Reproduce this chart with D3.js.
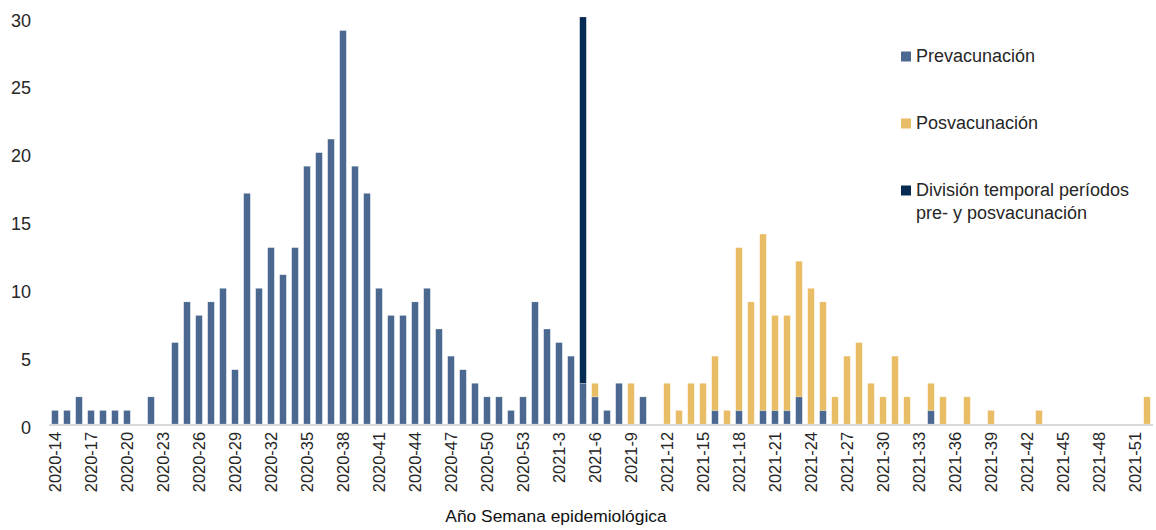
<!DOCTYPE html>
<html>
<head>
<meta charset="utf-8">
<script src="https://cdn.jsdelivr.net/npm/d3@7"></script>
<style>
  html, body { margin: 0; padding: 0; background: #ffffff; }
  svg { display: block; }
  text { font-family: "Liberation Sans", Arial, sans-serif; }
</style>
</head>
<body>
<svg id="chart" width="1156" height="530"></svg>
<script>
// ---- Data ----
const weeks = [
  "2020-14","2020-15","2020-16","2020-17","2020-18","2020-19","2020-20","2020-21","2020-22","2020-23",
  "2020-24","2020-25","2020-26","2020-27","2020-28","2020-29","2020-30","2020-31","2020-32","2020-33",
  "2020-34","2020-35","2020-36","2020-37","2020-38","2020-39","2020-40","2020-41","2020-42","2020-43",
  "2020-44","2020-45","2020-46","2020-47","2020-48","2020-49","2020-50","2020-51","2020-52","2020-53",
  "2021-1","2021-2","2021-3","2021-4","2021-5","2021-6","2021-7","2021-8","2021-9","2021-10",
  "2021-11","2021-12","2021-13","2021-14","2021-15","2021-16","2021-17","2021-18","2021-19","2021-20",
  "2021-21","2021-22","2021-23","2021-24","2021-25","2021-26","2021-27","2021-28","2021-29","2021-30",
  "2021-31","2021-32","2021-33","2021-34","2021-35","2021-36","2021-37","2021-38","2021-39","2021-40",
  "2021-41","2021-42","2021-43","2021-44","2021-45","2021-46","2021-47","2021-48","2021-49","2021-50",
  "2021-51","2021-52"
];
const prevacunacion = [
  1,1,2,1,1,1,1,0,2,0,
  6,9,8,9,10,4,17,10,13,11,
  13,19,20,21,29,19,17,10,8,8,
  9,10,7,5,4,3,2,2,1,2,
  9,7,6,5,3,2,1,3,0,2,
  0,0,0,0,0,1,0,1,0,1,
  1,1,2,0,1,0,0,0,0,0,
  0,0,0,1,0,0,0,0,0,0,
  0,0,0,0,0,0,0,0,0,0,
  0,0
];
const posvacunacion = [
  0,0,0,0,0,0,0,0,0,0,
  0,0,0,0,0,0,0,0,0,0,
  0,0,0,0,0,0,0,0,0,0,
  0,0,0,0,0,0,0,0,0,0,
  0,0,0,0,0,1,0,0,3,0,
  0,3,1,3,3,4,1,12,9,13,
  7,7,10,10,8,2,5,6,3,2,
  5,2,0,2,2,0,2,0,1,0,
  0,0,1,0,0,0,0,0,0,0,
  0,2
];
const division = weeks.map(w => w === "2021-5" ? 27 : 0);
const yTicks = [0,5,10,15,20,25,30];
const seriesNames = ["Prevacunación","Posvacunación","División temporal períodos pre- y posvacunación"];
const seriesKeys = ["pre","pos","div"];
const colors = { pre: "#4a6890", pos: "#e9bd66", div: "#062b52" };

// ---- Build table ----
const table = weeks.map((w,i) => ({ week: w, pre: prevacunacion[i], div: division[i], pos: posvacunacion[i] }));
const stacked = d3.stack().keys(["pre","div","pos"])(table);

const svg = d3.select("#chart");

const x = d3.scaleBand().domain(weeks).range([49, 1153]).paddingInner(0.45).paddingOuter(0.225);
const y = d3.scaleLinear().domain([0, 30]).range([424, 17]);

// Bars
svg.append("g").selectAll("g").data(stacked).join("g")
  .attr("fill", d => colors[d.key])
  .selectAll("rect").data(d => d.filter(p => p[1] - p[0] > 0)).join("rect")
  .attr("x", d => x(d.data.week))
  .attr("width", x.bandwidth())
  .attr("y", d => y(d[1]))
  .attr("height", d => y(d[0]) - y(d[1]))
  .attr("stroke", "#ffffff")
  .attr("stroke-opacity", 0.35)
  .attr("stroke-width", 0.6);

// X axis
const xAxis = svg.append("g")
  .attr("transform", "translate(0,424)")
  .call(d3.axisBottom(x).tickValues(weeks.filter((d,i) => i % 3 === 0)).tickSize(0).tickPadding(0));
xAxis.select(".domain").attr("stroke", "#d9d9d9").attr("stroke-width", 2).attr("d", "M49,1H1153");
xAxis.selectAll(".tick text")
  .attr("transform", "rotate(-90)")
  .attr("text-anchor", "end")
  .attr("x", -8)
  .attr("y", 0)
  .attr("dy", "0.36em")
  .attr("fill", "#262626")
  .style("font-size", "16.4px");

// Y axis
const yAxis = svg.append("g")
  .attr("transform", "translate(31,0)")
  .call(d3.axisLeft(y).tickValues(yTicks).tickSize(0).tickPadding(0));
yAxis.select(".domain").remove();
yAxis.selectAll(".tick text")
  .attr("fill", "#262626")
  .attr("dy", "0.5em")
  .style("font-size", "18px");

// Axis title
svg.append("text")
  .attr("x", 556).attr("y", 522)
  .attr("text-anchor", "middle")
  .attr("fill", "#111")
  .style("font-size", "17.4px")
  .text("Año Semana epidemiológica");

// Legend
const legendRows = [
  { key: "pre", lines: [seriesNames[0]], y: 62 },
  { key: "pos", lines: [seriesNames[1]], y: 129 },
  { key: "div", lines: ["División temporal períodos", "pre- y posvacunación"], y: 196 }
];
const lg = svg.append("g");
legendRows.forEach(r => {
  lg.append("rect").attr("x", 901).attr("y", r.y - 10.5).attr("width", 10).attr("height", 10).attr("fill", colors[r.key]);
  const t = lg.append("text").attr("x", 916).attr("y", r.y).attr("fill", "#262626").style("font-size", "18px");
  r.lines.forEach((l, i) => t.append("tspan").attr("x", 916).attr("dy", i === 0 ? 0 : 22.5).text(l));
});
</script>
</body>
</html>
